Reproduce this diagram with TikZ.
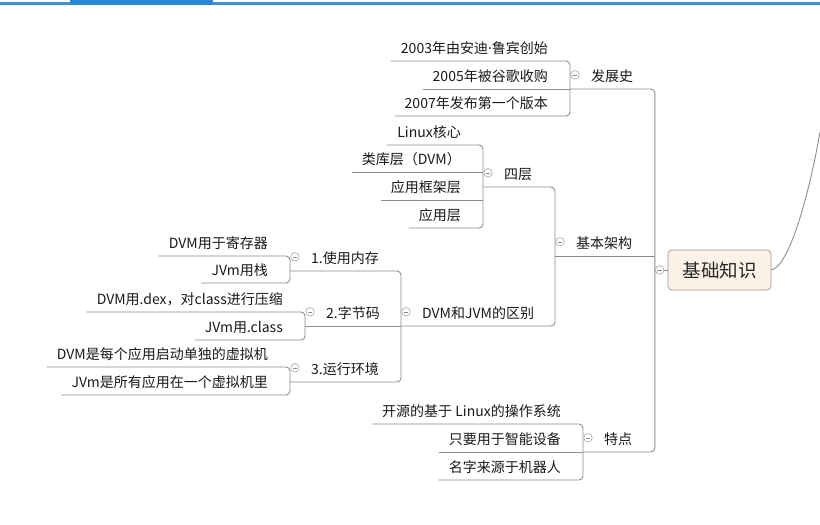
\documentclass[tikz,border=0pt]{standalone}
\usepackage{fontspec}
\setmainfont{Noto Sans CJK SC}
\newfontfamily\latinfont{Noto Sans}
\usepackage{tikz}
\definecolor{barblue}{RGB}{60,146,208}
\definecolor{tabblue}{RGB}{40,132,212}
\definecolor{linegray}{RGB}{140,140,140}
\definecolor{rootfill}{RGB}{253,242,232}
\definecolor{rootline}{RGB}{160,150,140}

\begin{document}
\begin{tikzpicture}[x=1pt,y=-1pt,
 conn/.style={draw=linegray,line width=.9pt,rounded corners=4pt},
 topic/.style={inner ysep=0pt,minimum height=28pt,text height=14pt,text depth=0pt,font=\fontsize{14}{16}\selectfont,text=black!90},
 leaf/.style={topic,inner xsep=10pt,anchor=south east},
 branch/.style={topic,inner xsep=21pt,anchor=south west},
 minus/.style={circle,draw=black!35,fill=white,line width=.6pt,minimum size=8.5pt,inner sep=0pt,
  path picture={\draw[black!45,line width=.6pt] ([xshift=-2.2pt]path picture bounding box.center)--([xshift=2.2pt]path picture bounding box.center);}}]
\useasboundingbox (0,0) rectangle (820,525);
\fill[barblue] (0,2) rectangle (820,4.5);
\fill[tabblue] (70,0) rectangle (213,5);
\node[draw=rootline,fill=rootfill,rounded corners=4pt,line width=.7pt,minimum width=103pt,minimum height=40pt,inner sep=0pt,font=\fontsize{18.5}{20}\selectfont,text=black!85] (jichu) at (719.5,270) {基础知识};
\node[inner sep=0pt,minimum size=0pt] (hub) at (655,270) {};
\coordinate (edge) at (820,132);
\foreach \n/\x/\y/\t in {fazhan/570/89/发展史,jiagou/555/256/基本架构,tedian/583/452/特点,
 sice/483/187/四层,qubie/401/326/DVM和JVM的区别,
 neicun/290/271/1.使用内存,zijie/305/326/2.字节码,huanjing/290/382/3.运行环境}
 \node[branch] (\n) at (\x,\y) {\t};
\foreach \n/\x/\y/\t in {f1/558/61/2003年由安迪{\latinfont ·}鲁宾创始,f2/558/89/2005年被谷歌收购,f3/558/116/2007年发布第一个版本,
 s1/471/145/Linux核心,s2/471/172/类库层（DVM）,s3/471/200/应用框架层,s4/471/228/应用层,
 n1/278/256/DVM用于寄存器,n2/278/283/JVm用栈,
 z1/293/312/DVM用.dex，对class进行压缩,z2/293/340/JVm用.class,
 h1/278/367/DVM是每个应用启动单独的虚拟机,h2/278/395/JVm是所有应用在一个虚拟机里,
 t1/571/424/开源的基于 Linux的操作系统,t2/571/452/只要用于智能设备,t3/571/480/名字来源于机器人}
 \node[leaf] (\n) at (\x,\y) {\t};
\foreach \p/\a/\b in {hub/fazhan/tedian,fazhan/f1/f3,jiagou/sice/qubie,sice/s1/s4,qubie/neicun/huanjing,
 neicun/n1/n2,zijie/z1/z2,huanjing/h1/h2,tedian/t1/t3}
 \draw[conn] (\a.south west)--(\a.south west -| \p.south west)--(\b.south west -| \p.south west)--(\b.south west);
\foreach \p/\c in {hub/jiagou,fazhan/f2,sice/s2,sice/s3,qubie/zijie,tedian/t2}
 \draw[conn] (\c.south west)--(\c.south west -| \p.south west);
\draw[conn] (hub)--(jichu.west);
\draw[conn] (jichu.east) .. controls (790,266) and (810,190) .. (edge);
\foreach \p in {fazhan,jiagou,tedian,sice,qubie,neicun,zijie,huanjing}
 \node[minus] at ([xshift=5pt]\p.west) {};
\node[minus] at ([xshift=-8pt]jichu.west) {};
\end{tikzpicture}
\end{document}
